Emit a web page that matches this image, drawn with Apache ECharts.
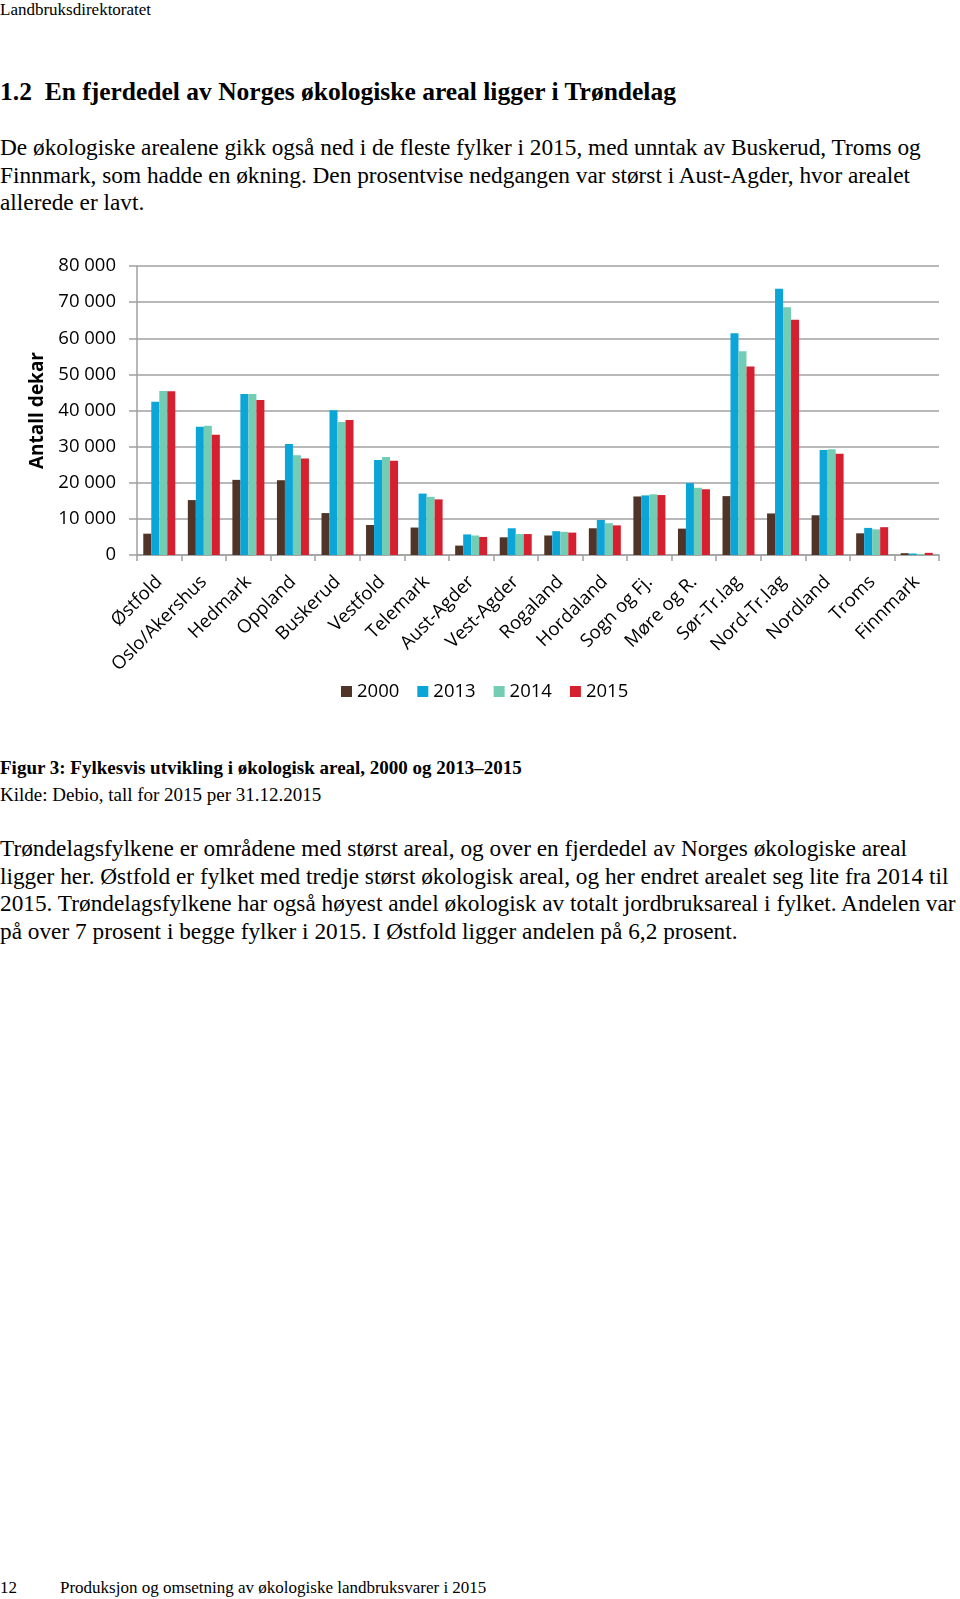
<!DOCTYPE html>
<html>
<head>
<meta charset="utf-8">
<script src="https://cdn.jsdelivr.net/npm/echarts@6/dist/echarts.min.js"></script>
<style>
    body { margin: 0; background: #fff; width: 960px; height: 1599px; position: relative; overflow: hidden; }
    .t { position: absolute; left: 0; font-family: "Liberation Serif", serif; color: #000; white-space: nowrap; }
    .top { top: 0px; font-size: 17px; }
    .head { top: 77px; font-size: 25.5px; font-weight: bold; }
    .body { font-size: 23.3px; line-height: 27.5px; }
    .cap { font-size: 19px; }
    #chart { position: absolute; left: 0; top: 230px; width: 960px; height: 490px; }
</style>
</head>
<body>
<div class="t top">Landbruksdirektoratet</div>
<div class="t head">1.2&nbsp;&nbsp;En fjerdedel av Norges økologiske areal ligger i Trøndelag</div>
<div class="t body" style="top:134px">De økologiske arealene gikk også ned i de fleste fylker i 2015, med unntak av Buskerud, Troms og<br>Finnmark, som hadde en økning. Den prosentvise nedgangen var størst i Aust-Agder, hvor arealet<br>allerede er lavt.</div>
<div id="chart"></div>
<div class="t cap" style="top:757px;font-weight:bold">Figur 3: Fylkesvis utvikling i økologisk areal, 2000 og 2013–2015</div>
<div class="t cap" style="top:784px">Kilde: Debio, tall for 2015 per 31.12.2015</div>
<div class="t body" style="top:835px">Trøndelagsfylkene er områdene med størst areal, og over en fjerdedel av Norges økologiske areal<br>ligger her. Østfold er fylket med tredje størst økologisk areal, og her endret arealet seg lite fra 2014 til<br>2015. Trøndelagsfylkene har også høyest andel økologisk av totalt jordbruksareal i fylket. Andelen var<br>på over 7 prosent i begge fylker i 2015. I Østfold ligger andelen på 6,2 prosent.</div>
<div class="t" style="top:1578px;font-size:17px">12</div>
<div class="t" style="top:1578px;left:60px;font-size:17px">Produksjon og omsetning av økologiske landbruksvarer i 2015</div>

<script>
    var fylker = ['Østfold', 'Oslo/Akershus', 'Hedmark', 'Oppland', 'Buskerud', 'Vestfold', 'Telemark', 'Aust-Agder',
        'Vest-Agder', 'Rogaland', 'Hordaland', 'Sogn og Fj.', 'Møre og R.', 'Sør-Tr.lag', 'Nord-Tr.lag', 'Nordland', 'Troms', 'Finnmark'];
    var years = ['2000', '2013', '2014', '2015'];
    var areal2000 = [5900, 15200, 20800, 20700, 11600, 8300, 7600, 2600, 4900, 5400, 7400, 16200, 7300, 16300, 11500, 11000, 6000, 500];
    var areal2013 = [42400, 35500, 44600, 30700, 40100, 26300, 17000, 5700, 7400, 6600, 9700, 16500, 19900, 61400, 73700, 29100, 7500, 400];
    var areal2014 = [45400, 35800, 44600, 27600, 36800, 27100, 16100, 5400, 5800, 6400, 8800, 16800, 18600, 56400, 68600, 29300, 7100, 300];
    var areal2015 = [45300, 33300, 42900, 26700, 37400, 26100, 15400, 5000, 5800, 6200, 8200, 16600, 18200, 52200, 65100, 28000, 7700, 600];
    var yTicks = [0, 10000, 20000, 30000, 40000, 50000, 60000, 70000, 80000];

    var colors = ['#4f3427', '#0ba5d8', '#72cdb4', '#d7202f'];
    var allData = [areal2000, areal2013, areal2014, areal2015];
    var font = '"Open Sans", sans-serif';

    var option = {
        animation: false,
        color: colors,
        grid: { left: 137, right: 21, top: 36, bottom: 165 },
        legend: {
            top: 447,
            left: 336,
            itemWidth: 11,
            itemHeight: 11,
            itemGap: 18,
            icon: 'rect',
            textStyle: { fontFamily: font, fontSize: 18.5, color: '#000' },
            data: years
        },
        xAxis: {
            type: 'category',
            data: fylker,
            axisLine: { lineStyle: { color: '#a0a0a0', width: 1.5 } },
            axisTick: { show: true, length: 6, lineStyle: { color: '#a0a0a0', width: 1.5 } },
            axisLabel: { interval: 0, rotate: 45, margin: 24, fontFamily: font, fontSize: 18.5, color: '#000' }
        },
        yAxis: {
            type: 'value',
            min: yTicks[0],
            max: yTicks[yTicks.length - 1],
            interval: 10000,
            name: 'Antall dekar',
            nameLocation: 'middle',
            nameGap: 79,
            nameTextStyle: { fontFamily: font, fontSize: 19, fontWeight: 'bold', color: '#000' },
            axisLine: { show: true, lineStyle: { color: '#a0a0a0', width: 1.5 } },
            axisTick: { show: true, length: 8, lineStyle: { color: '#a0a0a0', width: 1.5 } },
            splitLine: { lineStyle: { color: '#a0a0a0', width: 1.5 } },
            axisLabel: {
                margin: 21,
                fontFamily: font,
                fontSize: 18.5,
                color: '#000',
                formatter: function (v) {
                    return (v + '').replace(/\B(?=(\d{3})+(?!\d))/g, ' ');
                }
            }
        },
        series: years.map(function (y, i) {
            return {
                name: y,
                type: 'bar',
                barWidth: 8,
                barGap: '0%',
                data: allData[i]
            };
        })
    };

    echarts.init(document.getElementById('chart')).setOption(option);
</script>
</body>
</html>
